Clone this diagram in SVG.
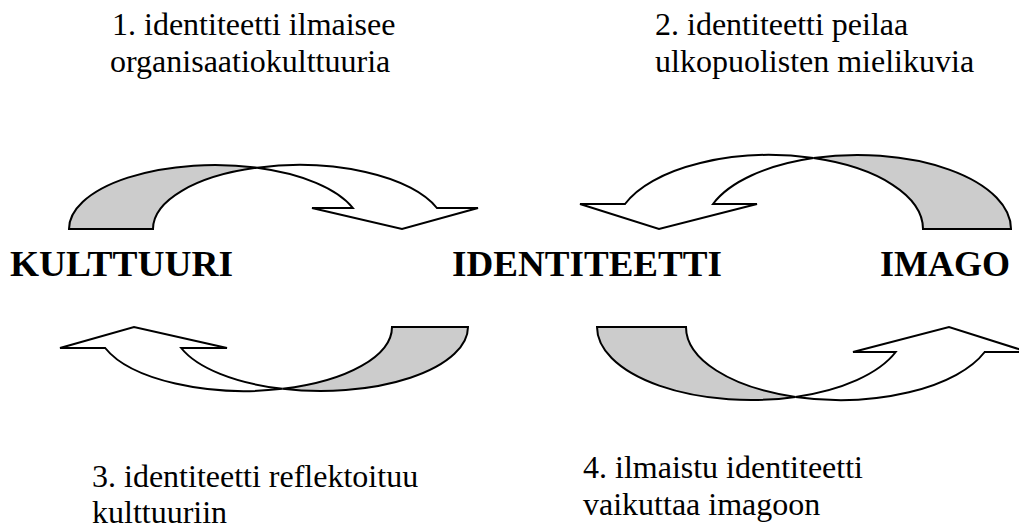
<svg xmlns="http://www.w3.org/2000/svg" width="1019" height="529" viewBox="0 0 1019 529">
<style>
.band{stroke:#000;stroke-width:2;stroke-linejoin:miter}
.back{fill:#cccccc}
.front{fill:#ffffff}
.lbl{font-family:"Liberation Serif","Times New Roman",serif;font-size:32px;fill:#000}
.big{font-family:"Liberation Serif","Times New Roman",serif;font-size:36px;font-weight:bold;fill:#000}
</style>
<rect width="1019" height="529" fill="#fff"/>
<g id="connectors">
  <g id="arrow1">
    <path class="band back" d="M69,229 A146,64 0 0 1 257,167.71 A146,64 0 0 0 153,229 Z"/>
    <path class="band front" d="M257,167.71 A146,64 0 0 1 436.9,208 L478,208 L402,229 L312,208 L352.9,208 A146,64 0 0 0 257,167.71 Z"/>
  </g>
  <g id="arrow2">
    <path class="band back" d="M1011,229 A153.5,74 0 0 0 813.5,158.11 A153.5,74 0 0 1 923,229 Z"/>
    <path class="band front" d="M813.5,158.11 A153.5,74 0 0 0 625,204 L580,204 L659,229 L757,204 L713,204 A153.5,74 0 0 1 813.5,158.11 Z"/>
  </g>
  <g id="arrow3">
    <path class="band back" d="M468,327 A147.5,64 0 0 1 282.5,388.84 A147.5,64 0 0 0 392,327 Z"/>
    <path class="band front" d="M282.5,388.84 A147.5,64 0 0 1 105.17,348 L60,348 L134,327 L227,348 L181.17,348 A147.5,64 0 0 0 282.5,388.84 Z"/>
  </g>
  <g id="arrow4">
    <path class="band back" d="M597,327 A154,73 0 0 0 795.5,396.89 A154,73 0 0 1 686,327 Z"/>
    <path class="band front" d="M795.5,396.89 A154,73 0 0 0 984.69,352 L1028,352 L949,327 L853,352 L895.69,352 A154,73 0 0 1 795.5,396.89 Z"/>
  </g>
</g>
<g id="node-kulttuuri"><text class="big" x="10" y="276" textLength="223" lengthAdjust="spacingAndGlyphs">KULTTUURI</text></g>
<g id="node-identiteetti"><text class="big" x="452" y="276" textLength="270" lengthAdjust="spacingAndGlyphs">IDENTITEETTI</text></g>
<g id="node-imago"><text class="big" x="880" y="276" textLength="130" lengthAdjust="spacingAndGlyphs">IMAGO</text></g>
<g id="label1"><text class="lbl" x="112" y="35">1. identiteetti ilmaisee</text><text class="lbl" x="110" y="72">organisaatiokulttuuria</text></g>
<g id="label2"><text class="lbl" x="655" y="35">2. identiteetti peilaa</text><text class="lbl" x="655" y="72">ulkopuolisten mielikuvia</text></g>
<g id="label3"><text class="lbl" x="92" y="487">3. identiteetti reflektoituu</text><text class="lbl" x="92" y="523">kulttuuriin</text></g>
<g id="label4"><text class="lbl" x="583" y="478">4. ilmaistu identiteetti</text><text class="lbl" x="583" y="515">vaikuttaa imagoon</text></g>
</svg>
